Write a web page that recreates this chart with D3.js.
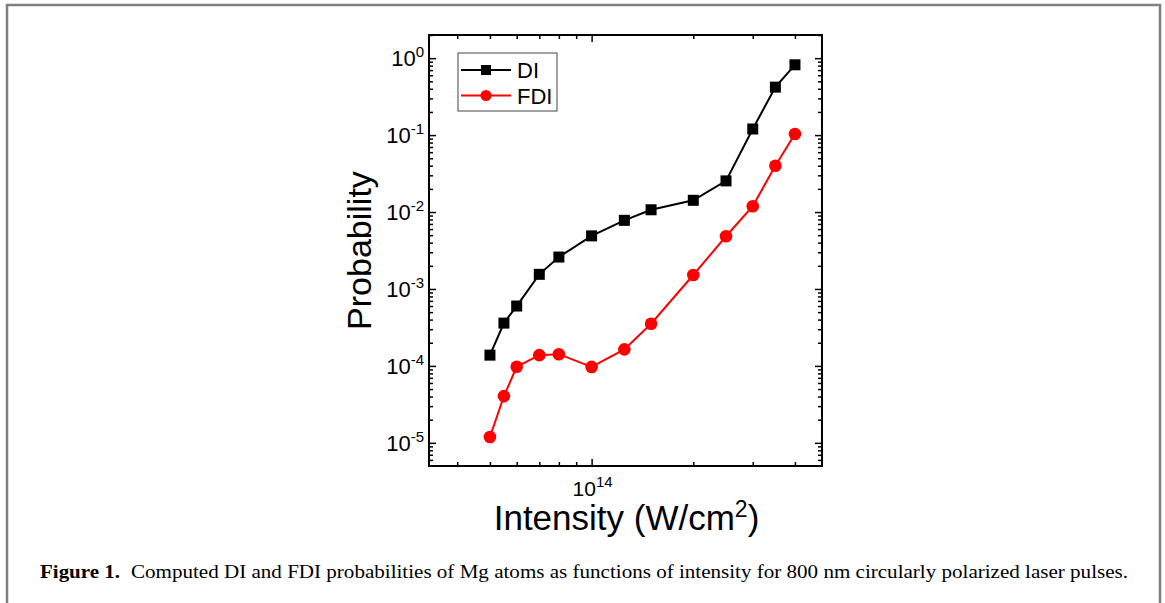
<!DOCTYPE html>
<html>
<head>
<meta charset="utf-8">
<script src="https://cdn.jsdelivr.net/npm/d3@7"></script>
<style>
  body { margin: 0; background: #fff; }
  svg { display: block; }
  text { font-family: "Liberation Sans", Arial, sans-serif; }
  .caption { font-family: "Liberation Serif", "Times New Roman", serif; }
</style>
</head>
<body>
<div id="chart"></div>
<script>
// Data
// ==============================
var intensity = [5e13, 5.5e13, 6e13, 7e13, 8e13, 1e14, 1.25e14, 1.5e14, 2e14, 2.5e14, 3e14, 3.5e14, 4e14];
var diProb  = [1.38e-4, 3.6e-4, 6.0e-4, 1.55e-3, 2.6e-3, 4.9e-3, 7.8e-3, 1.07e-2, 1.42e-2, 2.54e-2, 0.12, 0.42, 0.82];
var fdiProb = [1.19e-5, 4.05e-5, 9.75e-5, 1.38e-4, 1.42e-4, 9.7e-5, 1.64e-4, 3.53e-4, 1.52e-3, 4.84e-3, 1.19e-2, 0.040, 0.1035];
var yTickExps = [0, -1, -2, -3, -4, -5];
var xTickExps = [14];
var seriesNames = ["DI", "FDI"];
var figLabel = "Figure 1.";
var caption = "Computed DI and FDI probabilities of Mg atoms as functions of intensity for 800 nm circularly polarized laser pulses.";

// SVG area
// ==============================
var svgWidth = 1165, svgHeight = 603;
var margin = { top: 35, right: 343, bottom: 137, left: 429 };
var width = svgWidth - margin.left - margin.right;
var height = svgHeight - margin.top - margin.bottom;

var svg = d3.select("#chart")
  .append("svg")
  .attr("width", svgWidth)
  .attr("height", svgHeight);

// outer figure frame (open at the bottom)
svg.append("rect")
  .attr("x", 7).attr("y", 5)
  .attr("width", 1153).attr("height", 620)
  .attr("fill", "none")
  .attr("stroke", "#808080")
  .attr("stroke-width", 2.5);

var chartGroup = svg.append("g")
  .attr("transform", `translate(${margin.left}, ${margin.top})`);

// Scales
// ==============================
var xScale = d3.scaleLog().domain([3.3e13, 4.81e14]).range([0, width]);
var yScale = d3.scaleLog().domain([5e-6, 2]).range([height, 0]);

// tick values
var xMinor = [4e13, 5e13, 6e13, 7e13, 8e13, 9e13, 2e14, 3e14, 4e14];
var xMajor = xTickExps.map(e => Math.pow(10, e));
var yMajor = yTickExps.map(e => Math.pow(10, e));
var yMinor = [];
yTickExps.concat([-6]).forEach(function(e) {
  for (var k = 2; k <= 9; k++) {
    var v = k * Math.pow(10, e);
    if (v >= 5e-6 && v <= 2) yMinor.push(v);
  }
});

function styleAxis(g) {
  g.select(".domain").remove();
  g.selectAll("line").attr("stroke", "#000").attr("stroke-width", 1.5);
  g.selectAll("text").remove();
}

// inward ticks on all four sides
[[xMajor, 7], [xMinor, 4]].forEach(function(t) {
  chartGroup.append("g").attr("transform", `translate(0, ${height})`)
    .call(d3.axisBottom(xScale).tickValues(t[0]).tickSize(-t[1])).call(styleAxis);
  chartGroup.append("g")
    .call(d3.axisTop(xScale).tickValues(t[0]).tickSize(-t[1])).call(styleAxis);
});
[[yMajor, 7], [yMinor, 4]].forEach(function(t) {
  chartGroup.append("g")
    .call(d3.axisLeft(yScale).tickValues(t[0]).tickSize(-t[1])).call(styleAxis);
  chartGroup.append("g").attr("transform", `translate(${width}, 0)`)
    .call(d3.axisRight(yScale).tickValues(t[0]).tickSize(-t[1])).call(styleAxis);
});

// frame
chartGroup.append("rect")
  .attr("width", width).attr("height", height)
  .attr("fill", "none").attr("stroke", "#000").attr("stroke-width", 2);

// Tick labels (10 with superscript)
// ==============================
var yLabels = chartGroup.selectAll(".yLabel")
  .data(yTickExps)
  .join("text")
  .attr("class", "yLabel")
  .attr("x", -5)
  .attr("y", d => yScale(Math.pow(10, d)) + 8)
  .attr("text-anchor", "end")
  .attr("font-size", 22);
yLabels.append("tspan").text("10");
yLabels.append("tspan").attr("dy", -9).attr("font-size", 15).text(d => d);

var xLabels = chartGroup.selectAll(".xLabel")
  .data(xTickExps)
  .join("text")
  .attr("class", "xLabel")
  .attr("x", d => xScale(Math.pow(10, d)) + 1)
  .attr("y", height + 30)
  .attr("text-anchor", "middle")
  .attr("font-size", 21);
xLabels.append("tspan").text("10");
xLabels.append("tspan").attr("dy", -9).attr("font-size", 15).text(d => d);

// Lines and markers
// ==============================
var line = d3.line()
  .x(d => xScale(d[0]))
  .y(d => yScale(d[1]));

var diData = intensity.map((x, i) => [x, diProb[i]]);
var fdiData = intensity.map((x, i) => [x, fdiProb[i]]);

chartGroup.append("path").datum(diData)
  .attr("d", line).attr("fill", "none").attr("stroke", "#000").attr("stroke-width", 2);
chartGroup.append("path").datum(fdiData)
  .attr("d", line).attr("fill", "none").attr("stroke", "#ff0000").attr("stroke-width", 2);

var sq = 11;
chartGroup.selectAll(".diPt")
  .data(diData)
  .join("rect")
  .attr("class", "diPt")
  .attr("x", d => xScale(d[0]) - sq / 2)
  .attr("y", d => yScale(d[1]) - sq / 2)
  .attr("width", sq).attr("height", sq)
  .attr("fill", "#000");

chartGroup.selectAll(".fdiPt")
  .data(fdiData)
  .join("circle")
  .attr("class", "fdiPt")
  .attr("cx", d => xScale(d[0]))
  .attr("cy", d => yScale(d[1]))
  .attr("r", 6.3)
  .attr("fill", "#ff0000");

// Legend
// ==============================
var legend = chartGroup.append("g").attr("transform", "translate(29, 18)");
legend.append("rect")
  .attr("width", 99).attr("height", 58)
  .attr("fill", "#fff").attr("stroke", "#444").attr("stroke-width", 1);
var legColors = ["#000", "#ff0000"];
seriesNames.forEach(function(name, i) {
  var ly = 17 + i * 25.5;
  legend.append("line")
    .attr("x1", 3).attr("x2", 53).attr("y1", ly).attr("y2", ly)
    .attr("stroke", legColors[i]).attr("stroke-width", 2);
  if (i === 0) {
    legend.append("rect").attr("x", 28 - 5).attr("y", ly - 5)
      .attr("width", 10).attr("height", 10).attr("fill", "#000");
  } else {
    legend.append("circle").attr("cx", 28).attr("cy", ly).attr("r", 5.5).attr("fill", "#ff0000");
  }
  legend.append("text")
    .attr("x", 59).attr("y", ly + 8)
    .attr("font-size", 22)
    .text(name);
});

// Axis titles
// ==============================
chartGroup.append("text")
  .attr("transform", `translate(${-58}, ${height / 2}) rotate(-90)`)
  .attr("text-anchor", "middle")
  .attr("font-size", 34)
  .text("Probability");

var xTitle = chartGroup.append("text")
  .attr("x", width / 2 + 1)
  .attr("y", height + 64)
  .attr("text-anchor", "middle")
  .attr("font-size", 35);
xTitle.append("tspan").text("Intensity (W/cm");
xTitle.append("tspan").attr("dy", -13).attr("font-size", 23).text("2");
xTitle.append("tspan").attr("dy", 13).text(")");

// Caption
// ==============================
svg.append("text")
  .attr("class", "caption")
  .attr("x", 40).attr("y", 578)
  .attr("font-size", 19)
  .attr("font-weight", "bold")
  .attr("textLength", 80)
  .attr("lengthAdjust", "spacingAndGlyphs")
  .text(figLabel);
svg.append("text")
  .attr("class", "caption")
  .attr("x", 131).attr("y", 578)
  .attr("font-size", 19)
  .attr("textLength", 997)
  .attr("lengthAdjust", "spacingAndGlyphs")
  .text(caption);
</script>
</body>
</html>
